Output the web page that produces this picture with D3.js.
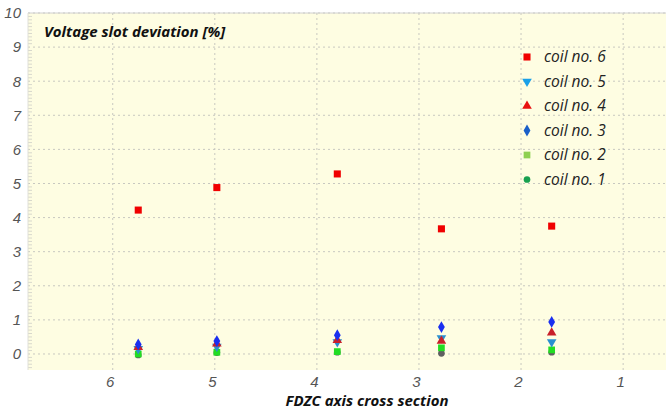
<!DOCTYPE html>
<html>
<head>
  <style>
    body { margin: 0; background: #fff; }
    .tick text { font-family: "Liberation Sans", Arial, sans-serif; font-style: italic; fill: #555; font-size: 15px; }
    .grid line { stroke: #c8c8c0; stroke-dasharray: 2,3; }
  </style>
</head>
<body>
  <svg id="chart"></svg>
  <script src="https://d3js.org/d3.v7.min.js"></script>
  <script>
    // cross section positions (x) of the measured points
    var sections = [5.75, 4.98, 3.8, 2.78, 1.7];
    var xTicks = [6, 5, 4, 3, 2, 1];
    var yTicks = [0, 1, 2, 3, 4, 5, 6, 7, 8, 9, 10];

    var coil6 = [4.22, 4.88, 5.28, 3.67, 3.75];
    var coil5 = [0.15, 0.22, 0.35, 0.47, 0.35];
    var coil4 = [0.2, 0.3, 0.4, 0.38, 0.62];
    var coil3 = [0.28, 0.38, 0.55, 0.79, 0.94];
    var coil2 = [0.0, 0.05, 0.07, 0.18, 0.12];
    var coil1 = [-0.03, 0.04, 0.05, 0.02, 0.05];

    var names = ["coil no. 6", "coil no. 5", "coil no. 4", "coil no. 3", "coil no. 2", "coil no. 1"];
    var seriesData = [coil6, coil5, coil4, coil3, coil2, coil1];

    var width = 666, height = 411;
    var svg = d3.select("#chart").attr("width", width).attr("height", height);

    var pLeft = 28, pRight = 666, pTop = 13, pBottom = 370;

    var x = d3.scaleLinear().domain([6.83, 0.58]).range([pLeft, pRight]);
    var y = d3.scaleLinear().domain([-0.47, 10]).range([pBottom, pTop]);

    svg.append("rect")
      .attr("x", pLeft).attr("y", pTop)
      .attr("width", pRight - pLeft).attr("height", pBottom - pTop)
      .attr("fill", "#fefde2");

    // grid
    svg.append("g").attr("class", "grid")
      .selectAll("line").data(yTicks).enter().append("line")
      .attr("x1", pLeft).attr("x2", pRight)
      .attr("y1", function(d) { return y(d); }).attr("y2", function(d) { return y(d); });
    svg.append("g").attr("class", "grid")
      .selectAll("line").data(xTicks).enter().append("line")
      .attr("y1", pTop).attr("y2", pBottom)
      .attr("x1", function(d) { return x(d); }).attr("x2", function(d) { return x(d); });

    // minor ticks on the left side
    var minor = d3.range(-4, 100).map(function(d) { return d / 10; }).filter(function(d) { return d % 1 !== 0; });
    svg.append("g").selectAll("line").data(minor).enter().append("line")
      .attr("x1", pLeft).attr("x2", pLeft + 4)
      .attr("y1", function(d) { return y(d); }).attr("y2", function(d) { return y(d); })
      .attr("stroke", "#d8d8cc");

    svg.append("line").attr("x1", pLeft).attr("x2", pRight).attr("y1", pTop).attr("y2", pTop)
      .attr("stroke", "#d0d0d0");
    svg.append("line").attr("x1", pLeft).attr("x2", pLeft).attr("y1", pTop).attr("y2", pBottom)
      .attr("stroke", "#e0e0d8");

    // axes
    var yAxis = svg.append("g").attr("transform", "translate(" + pLeft + ",0)")
      .call(d3.axisLeft(y).tickValues(yTicks).tickSize(0).tickPadding(7).tickFormat(d3.format("d")));
    yAxis.select(".domain").remove();

    var xAxis = svg.append("g").attr("transform", "translate(0," + pBottom + ")")
      .call(d3.axisBottom(x).tickValues(xTicks).tickSize(0).tickPadding(6).tickFormat(d3.format("d")));
    xAxis.select(".domain").remove();
    xAxis.selectAll(".tick text").attr("dx", -3);

    // markers
    var styles = [
      { shape: d3.symbolSquare, color: "#f00000", size: 50 },
      { shape: d3.symbolTriangle, color: "#2a8fd0", size: 40, rotate: true },
      { shape: d3.symbolTriangle, color: "#c8202a", size: 40 },
      { shape: d3.symbolDiamond, color: "#1a2ff0", size: 40 },
      { shape: d3.symbolSquare, color: "#22dd22", size: 45 },
      { shape: d3.symbolCircle, color: "#606060", size: 35 }
    ];

    // low series first so coil 3 diamonds and coil 6 squares sit on top
    var drawOrder = [5, 4, 1, 2, 3, 0];
    drawOrder.forEach(function(i) {
      var st = styles[i];
      svg.append("g").selectAll("path").data(seriesData[i]).enter().append("path")
        .attr("d", d3.symbol().type(st.shape).size(st.size))
        .attr("transform", function(d, j) {
          return "translate(" + x(sections[j]) + "," + y(d) + ")" + (st.rotate ? " rotate(180)" : "");
        })
        .attr("fill", st.color);
    });

    // legend
    var legendColors = ["#f00000", "#1aa0e8", "#e81010", "#1a5fc8", "#8fd050", "#18a050"];
    var legend = svg.append("g").attr("transform", "translate(527,57)");
    names.forEach(function(n, i) {
      var st = styles[i];
      var g = legend.append("g").attr("transform", "translate(0," + (i * 24.5) + ")");
      g.append("path")
        .attr("d", d3.symbol().type(st.shape).size(st.size))
        .attr("transform", st.rotate ? "rotate(180)" : null)
        .attr("fill", legendColors[i]);
      g.append("text").attr("x", 17).attr("y", 5)
        .attr("font-family", "Open Sans, sans-serif").attr("font-style", "italic")
        .attr("font-size", 15.5).attr("fill", "#222")
        .text(n);
    });

    svg.append("text").attr("x", 44).attr("y", 37)
      .attr("font-family", "Open Sans, sans-serif").attr("font-style", "italic").attr("font-weight", "bold")
      .attr("font-size", 15).attr("fill", "#111")
      .text("Voltage slot deviation [%]");

    svg.append("text").attr("x", 367).attr("y", 406).attr("text-anchor", "middle")
      .attr("font-family", "Open Sans, sans-serif").attr("font-style", "italic").attr("font-weight", "bold")
      .attr("font-size", 15).attr("fill", "#111")
      .text("FDZC axis cross section");
  </script>
</body>
</html>
